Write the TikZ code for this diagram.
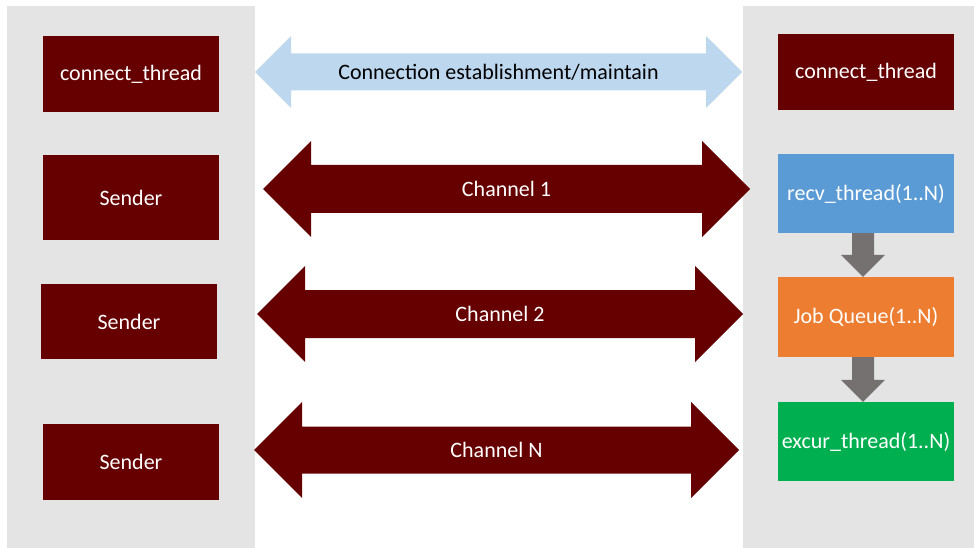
\documentclass[tikz,border=0pt]{standalone}
\usepackage{fontspec}
\setmainfont{Carlito}
\usetikzlibrary{calc}

\definecolor{darkred}{HTML}{660000}
\definecolor{panelgray}{HTML}{E4E4E4}
\definecolor{lightblue}{HTML}{BDD7EE}
\definecolor{recvblue}{HTML}{5B9BD5}
\definecolor{queueorange}{HTML}{ED7D31}
\definecolor{execgreen}{HTML}{00B050}
\definecolor{arrowgray}{HTML}{767171}

% horizontal double block arrow: style, left tip x, right tip x, centre y, head half-height, shaft half-height
\newcommand\dblblock[6]{%
  \fill[#1] (#2,#4) -- ({#2+#5},{#4-#5}) -- ({#2+#5},{#4-#6}) -- ({#3-#5},{#4-#6})
    -- ({#3-#5},{#4-#5}) -- (#3,#4) -- ({#3-#5},{#4+#5}) -- ({#3-#5},{#4+#6})
    -- ({#2+#5},{#4+#6}) -- ({#2+#5},{#4+#5}) -- cycle;}

% downward block arrow between the bottom of one box and the top of the next
\newcommand\downblock[2]{%
  \fill[arrowgray] let \p1=(#1.south), \p2=(#2.north) in
    (\x1-14pt,\y1) -- (\x1+8pt,\y1) -- (\x1+8pt,\y2+22pt) -- (\x1+19pt,\y2+22pt)
    -- (\x1-3pt,\y2) -- (\x1-25pt,\y2+22pt) -- (\x1-14pt,\y2+22pt) -- cycle;}

\tikzset{
  box/.style={minimum width=176pt, inner sep=0pt, text=white,
    font=\fontsize{22}{26}\selectfont},
  arrowlabel/.style={inner sep=0pt, font=\fontsize{22}{26}\selectfont}
}

\begin{document}
\begin{tikzpicture}[x=1pt, y=-1pt]
  \useasboundingbox (0,0) rectangle (974,548);

  % side panels
  \fill[panelgray] (7,6) rectangle (255,548);
  \fill[panelgray] (743,6) rectangle (974,548);

  % left column
  \node[box, fill=darkred, minimum height=76pt] (lconn) at (131,74) {connect\_thread};
  \node[box, fill=darkred, minimum height=85pt] (send1) at (131,197.5) {Sender};
  \node[box, fill=darkred, minimum height=75pt] (send2) at (129,321.5) {Sender};
  \node[box, fill=darkred, minimum height=76pt] (send3) at (131,462) {Sender};

  % right column
  \node[box, fill=darkred, minimum height=76pt] (rconn) at (866,72) {connect\_thread};
  \node[box, fill=recvblue, minimum height=79pt] (recv) at (866,193.5) {recv\_thread(1..N)};
  \node[box, fill=queueorange, minimum height=80pt] (queue) at (866,317) {Job Queue(1..N)};
  \node[box, fill=execgreen, minimum height=79pt] (exec) at (866,441.5) {excur\_thread(1..N)};

  \downblock{recv}{queue}
  \downblock{queue}{exec}

  % channels between the two sides
  \dblblock{lightblue}{255}{742}{72}{36}{18.5}
  \node[arrowlabel, text=black] (lconnlabel) at (498.5,72) {Connection establishment/maintain};

  \dblblock{darkred}{263}{750}{189}{48}{24}
  \node[arrowlabel, text=white] (ch1) at (506.5,189) {Channel 1};

  \dblblock{darkred}{257}{743}{314}{48}{24}
  \node[arrowlabel, text=white] (ch2) at (500,314) {Channel 2};

  \dblblock{darkred}{254}{739}{450}{48}{23.5}
  \node[arrowlabel, text=white] (chN) at (496.5,450) {Channel N};
\end{tikzpicture}
\end{document}
